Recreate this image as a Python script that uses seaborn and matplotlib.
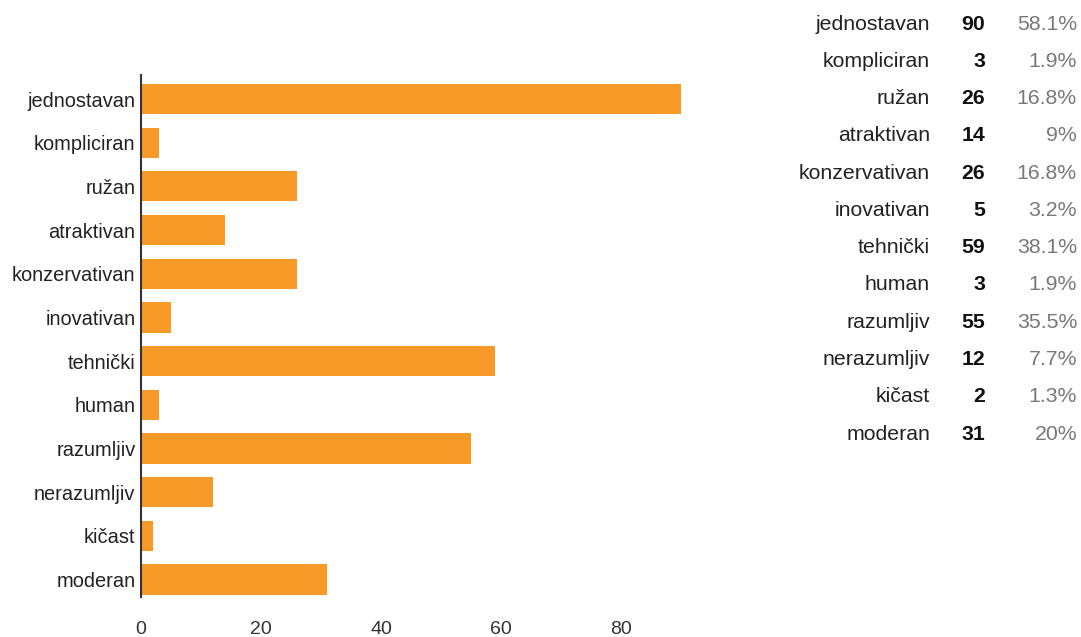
import matplotlib
matplotlib.use("Agg")
import matplotlib.pyplot as plt
import seaborn as sns
import pandas as pd

categories = ["jednostavan", "kompliciran", "ružan", "atraktivan", "konzervativan",
              "inovativan", "tehnički", "human", "razumljiv", "nerazumljiv", "kičast", "moderan"]
counts = [90, 3, 26, 14, 26, 5, 59, 3, 55, 12, 2, 31]
percents = ["58.1%", "1.9%", "16.8%", "9%", "16.8%", "3.2%", "38.1%", "1.9%", "35.5%", "7.7%", "1.3%", "20%"]
xticks = [0, 20, 40, 60, 80]

sns.set_theme(style="white")
plt.rcParams['font.family'] = ['Liberation Sans', 'DejaVu Sans']

df = pd.DataFrame({"cat": categories, "n": counts})

W, H = 1081, 637
fig = plt.figure(figsize=(W / 100, H / 100), dpi=100)
ax = fig.add_axes([141 / W, 1 - 597 / H, 540 / W, (597 - 75) / H])

sns.barplot(data=df, x="n", y="cat", orient="h", color="#F79A27", saturation=1,
            width=0.69, ax=ax, edgecolor="none")

ax.set_xlim(0, 90)
ax.set_ylim(11.4, -0.55)
for b in ax.patches:
    b.set_clip_on(False)
ax.set_xticks(xticks)
ax.set_xlabel("")
ax.set_ylabel("")
for s in ["top", "right", "bottom"]:
    ax.spines[s].set_visible(False)
ax.spines["left"].set_color("#333333")
ax.spines["left"].set_linewidth(1.5)
ax.tick_params(axis="y", length=0, labelsize=14.4, colors="#222222", pad=4)
ax.tick_params(axis="x", length=0, labelsize=14, colors="#333333", pad=17)

# table on the right
row0 = 24
step = (434 - 24) / 11
for i, (c, n, p) in enumerate(zip(categories, counts, percents)):
    y = 1 - (row0 + i * step) / H
    fig.text(930 / W, y, c, ha="right", va="center", fontsize=15.3, color="#222222")
    fig.text(985 / W, y, str(n), ha="right", va="center", fontsize=15.3,
             color="#111111", fontweight="bold")
    fig.text(1077 / W, y, p, ha="right", va="center", fontsize=15.3, color="#777777")

fig.savefig("out.png", dpi=100)
